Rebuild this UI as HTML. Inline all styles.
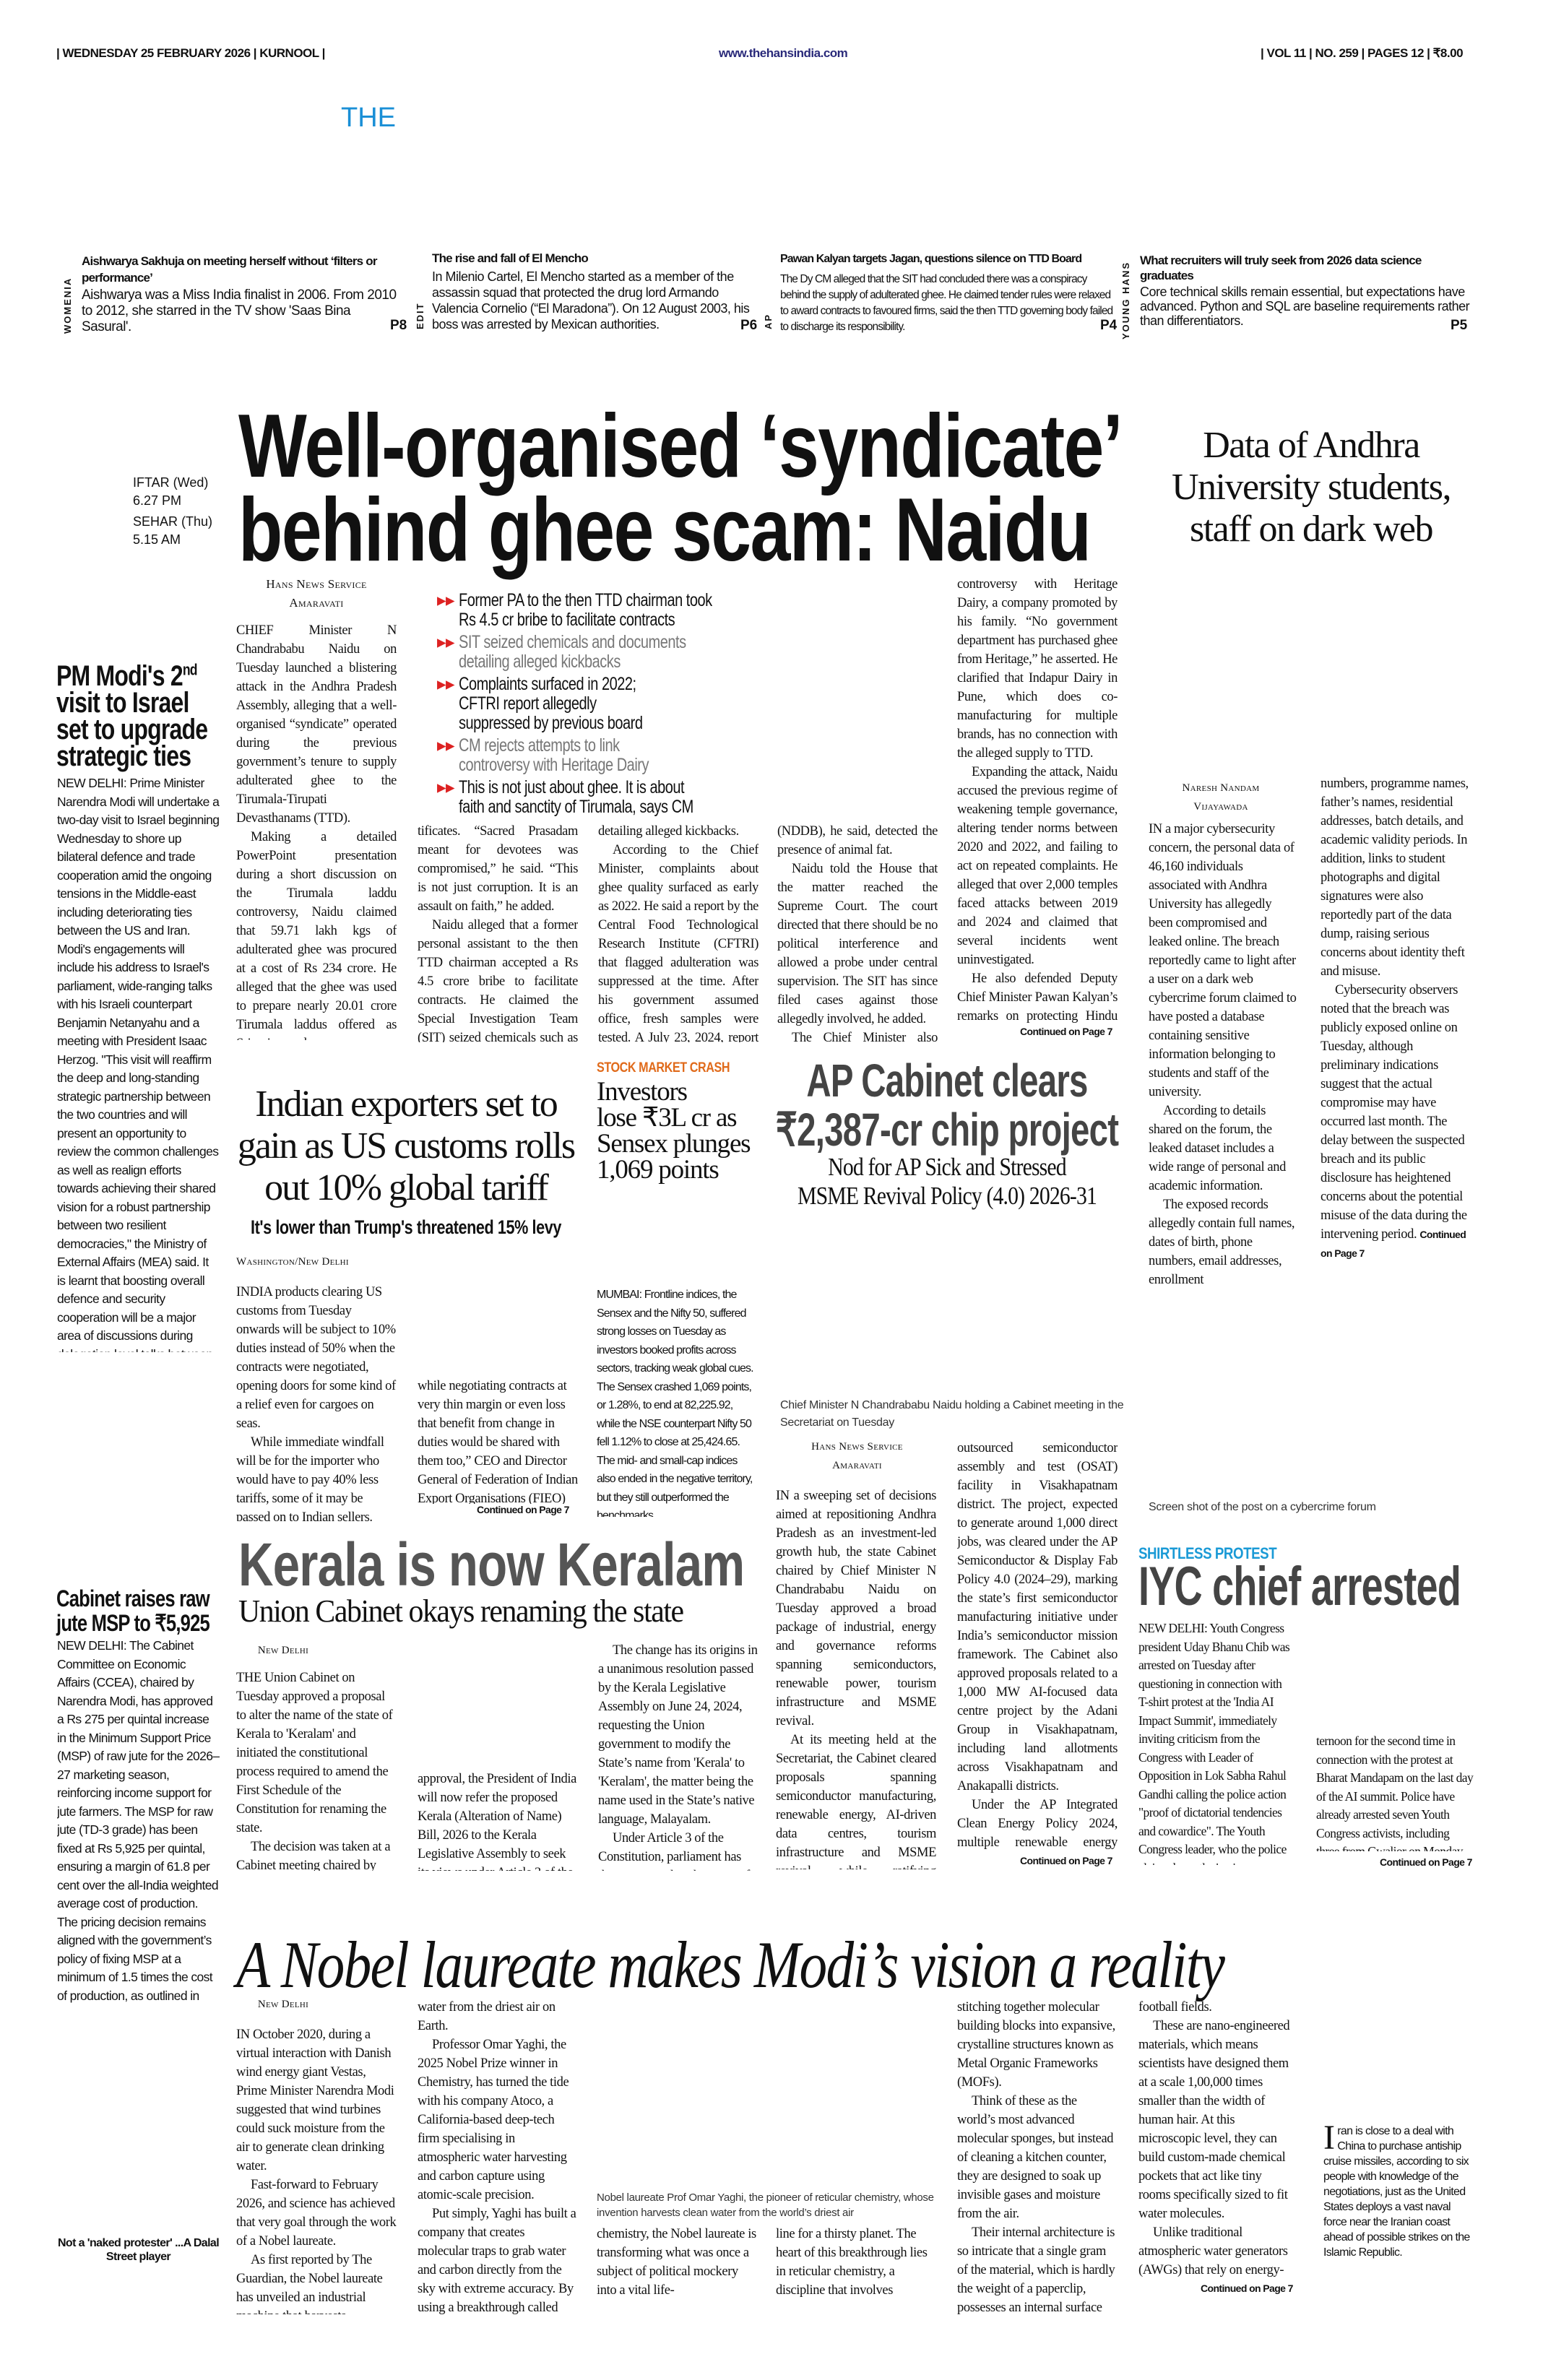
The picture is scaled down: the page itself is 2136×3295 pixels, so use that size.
<!DOCTYPE html>
<html lang="en"><head><meta charset="utf-8">
<style>
*{margin:0;padding:0;box-sizing:border-box}
body{width:2136px;height:3295px;background:#fff;position:relative;overflow:hidden;font-family:"Liberation Serif",serif;color:#111}
.a{position:absolute}
.s{font-family:"Liberation Sans",sans-serif}
.col{position:absolute;font-family:"Liberation Serif",serif;font-size:18.5px;line-height:26px;text-align:justify;hyphens:auto;-webkit-hyphens:auto;overflow:hidden;letter-spacing:-0.4px}
.col p{text-indent:20px}
.col p.n{text-indent:0}
.sc{position:absolute;font-family:"Liberation Sans",sans-serif;font-size:17.5px;line-height:25.5px;overflow:hidden;letter-spacing:-0.6px;hyphens:auto;-webkit-hyphens:auto}
.cond{display:inline-block;transform-origin:left top;white-space:nowrap}
.cl{position:absolute;white-space:nowrap;text-align:center;transform-origin:center top}
.by{position:absolute;text-align:center;font-family:"Liberation Serif",serif;font-size:17px;line-height:26px;font-variant:small-caps;letter-spacing:0.3px}
.cont{font-family:"Liberation Sans",sans-serif;font-weight:bold;font-size:14px;letter-spacing:-0.6px}
.hd{font-family:"Liberation Sans",sans-serif;font-weight:bold}
.bl{position:relative;padding-left:30px;margin-bottom:4px;white-space:nowrap}
.bl span.t{display:inline-block;transform:scaleX(0.8);transform-origin:left top}
.bl span.m{position:absolute;left:0;color:#d22}
</style></head><body>

<!-- header -->
<div class="a s" style="left:78px;top:64px;font-size:17px;font-weight:bold;letter-spacing:-0.5px">| WEDNESDAY 25 FEBRUARY 2026 | KURNOOL |</div>
<div class="a s" style="left:995px;top:64px;font-size:17px;font-weight:bold;color:#2a2a7a;letter-spacing:-0.5px">www.thehansindia.com</div>
<div class="a s" style="left:1745px;top:64px;font-size:17px;font-weight:bold;letter-spacing:-0.5px">| VOL 11 | NO. 259 | PAGES 12 | ₹8.00</div>
<div class="a s" style="left:472px;top:142px;font-size:38px;color:#1a8fd6">THE</div>

<!-- teasers -->
<div class="a s" style="left:113px;top:350px;width:440px;font-size:17px;line-height:23px;font-weight:bold;letter-spacing:-0.8px">Aishwarya Sakhuja on meeting herself without ‘filters or performance’</div>
<div class="a s" style="left:113px;top:398px;width:440px;font-size:19px;line-height:22px;letter-spacing:-0.5px">Aishwarya was a Miss India finalist in 2006. From 2010 to 2012, she starred in the TV show 'Saas Bina Sasural'.</div>
<div class="a s" style="left:86px;top:462px;transform:rotate(-90deg);transform-origin:0 0;font-size:13px;font-weight:bold;letter-spacing:2px;">WOMENIA</div>
<div class="a s" style="left:540px;top:440px;font-size:19px;font-weight:bold">P8</div>

<div class="a s" style="left:598px;top:348px;width:440px;font-size:17px;font-weight:bold;letter-spacing:-0.8px">The rise and fall of El Mencho</div>
<div class="a s" style="left:598px;top:372px;width:440px;font-size:18px;line-height:22px;letter-spacing:-0.5px">In Milenio Cartel, El Mencho started as a member of the assassin squad that protected the drug lord Armando Valencia Cornelio (“El Maradona”). On 12 August 2003, his boss was arrested by Mexican authorities.</div>
<div class="a s" style="left:574px;top:456px;transform:rotate(-90deg);transform-origin:0 0;font-size:13px;font-weight:bold;letter-spacing:2px">EDIT</div>
<div class="a s" style="left:1025px;top:440px;font-size:19px;font-weight:bold">P6</div>

<div class="a s" style="left:1080px;top:350px;width:470px;font-size:16px;font-weight:bold;letter-spacing:-0.9px">Pawan Kalyan targets Jagan, questions silence on TTD Board</div>
<div class="a s" style="left:1080px;top:376px;width:465px;font-size:15.5px;line-height:22px;letter-spacing:-0.9px">The Dy CM alleged that the SIT had concluded there was a conspiracy behind the supply of adulterated ghee. He claimed tender rules were relaxed to award contracts to favoured firms, said the then TTD governing body failed to discharge its responsibility.</div>
<div class="a s" style="left:1056px;top:456px;transform:rotate(-90deg);transform-origin:0 0;font-size:13px;font-weight:bold;letter-spacing:2px">AP</div>
<div class="a s" style="left:1523px;top:440px;font-size:19px;font-weight:bold">P4</div>

<div class="a s" style="left:1578px;top:350px;width:440px;font-size:17px;line-height:21px;font-weight:bold;letter-spacing:-0.8px">What recruiters will truly seek from 2026 data science graduates</div>
<div class="a s" style="left:1578px;top:394px;width:460px;font-size:18px;line-height:20px;letter-spacing:-0.5px">Core technical skills remain essential, but expectations have advanced. Python and SQL are baseline requirements rather than differentiators.</div>
<div class="a s" style="left:1551px;top:470px;transform:rotate(-90deg);transform-origin:0 0;font-size:13px;font-weight:bold;letter-spacing:2px">YOUNG HANS</div>
<div class="a s" style="left:2008px;top:440px;font-size:19px;font-weight:bold">P5</div>

<!-- IFTAR -->
<div class="a s" style="left:184px;top:656px;font-size:18px;line-height:25px">IFTAR (Wed)<br>6.27 PM</div>
<div class="a s" style="left:184px;top:710px;font-size:18px;line-height:25px">SEHAR (Thu)<br>5.15 AM</div>

<!-- main headline -->
<div class="a hd" style="left:330px;top:560px;font-size:124px;line-height:116px;letter-spacing:-2px">
<span class="cond" style="transform:scaleX(0.81)">Well-organised ‘syndicate’</span><br>
<span class="cond" style="transform:scaleX(0.81)">behind ghee scam: Naidu</span></div>

<div class="by" style="left:327px;top:796px;width:222px">Hans News Service<br>Amaravati</div>
<div class="col" style="left:327px;top:860px;width:222px;height:580px">
<p class="n">CHIEF Minister N Chandrababu Naidu on Tuesday launched a blistering attack in the Andhra Pradesh Assembly, alleging that a well-organised “syndicate” operated during the previous government’s tenure to supply adulterated ghee to the Tirumala-Tirupati Devasthanams (TTD).</p>
<p>Making a detailed PowerPoint presentation during a short discussion on the Tirumala laddu controversy, Naidu claimed that 59.71 lakh kgs of adulterated ghee was procured at a cost of Rs 234 crore. He alleged that the ghee was used to prepare nearly 20.01 crore Tirumala laddus offered as Srivari prasadam.</p>
<p>He accused those involved of manipulating tender rules, ignoring lab standards and submitting fake quality cer-</p></div>

<!-- bullets -->
<div class="a s" style="left:605px;top:818px;width:700px;font-size:25px;line-height:27px;letter-spacing:-0.6px">
<div class="bl"><span class="m">▸▸</span><span class="t">Former PA to the then TTD chairman took<br>Rs 4.5 cr bribe to facilitate contracts</span></div>
<div class="bl" style="color:#777"><span class="m">▸▸</span><span class="t">SIT seized chemicals and documents<br>detailing alleged kickbacks</span></div>
<div class="bl"><span class="m">▸▸</span><span class="t">Complaints surfaced in 2022;<br>CFTRI report allegedly<br>suppressed by previous board</span></div>
<div class="bl" style="color:#777"><span class="m">▸▸</span><span class="t">CM rejects attempts to link<br>controversy with Heritage Dairy</span></div>
<div class="bl"><span class="m">▸▸</span><span class="t">This is not just about ghee. It is about<br>faith and sanctity of Tirumala, says CM</span></div>
</div>

<div class="col" style="left:578px;top:1138px;width:222px;height:305px">
<p class="n">tificates. “Sacred Prasadam meant for devotees was compromised,” he said. “This is not just corruption. It is an assault on faith,” he added.</p>
<p>Naidu alleged that a former personal assistant to the then TTD chairman accepted a Rs 4.5 crore bribe to facilitate contracts. He claimed the Special Investigation Team (SIT) seized chemicals such as monoglycerides and acetic acid, along with documents</p></div>
<div class="col" style="left:828px;top:1138px;width:222px;height:305px">
<p class="n">detailing alleged kickbacks.</p>
<p>According to the Chief Minister, complaints about ghee quality surfaced as early as 2022. He said a report by the Central Food Technological Research Institute (CFTRI) that flagged adulteration was suppressed at the time. After his government assumed office, fresh samples were tested. A July 23, 2024, report from the National Dairy Development Board</p></div>
<div class="col" style="left:1076px;top:1138px;width:222px;height:305px">
<p class="n">(NDDB), he said, detected the presence of animal fat.</p>
<p>Naidu told the House that the matter reached the Supreme Court. The court directed that there should be no political interference and allowed a probe under central supervision. The SIT has since filed cases against those allegedly involved, he added.</p>
<p>The Chief Minister also rejected attempts to link the</p></div>
<div class="col" style="left:1325px;top:796px;width:222px;height:620px">
<p class="n">controversy with Heritage Dairy, a company promoted by his family. “No government department has purchased ghee from Heritage,” he asserted. He clarified that Indapur Dairy in Pune, which does co-manufacturing for multiple brands, has no connection with the alleged supply to TTD.</p>
<p>Expanding the attack, Naidu accused the previous regime of weakening temple governance, altering tender norms between 2020 and 2022, and failing to act on repeated complaints. He alleged that over 2,000 temples faced attacks between 2019 and 2024 and claimed that several incidents went uninvestigated.</p>
<p>He also defended Deputy Chief Minister Pawan Kalyan’s remarks on protecting Hindu traditions and said places of worship must respect established customs.</p></div>
<div class="a cont" style="left:1412px;top:1420px">Continued on Page 7</div>

<!-- right story -->
<div class="a" style="left:1585px;top:588px;width:460px;text-align:center;font-size:52px;line-height:58px;letter-spacing:-1.5px">Data of Andhra University students, staff on dark web</div>
<div class="by" style="left:1590px;top:1078px;width:200px;font-size:15px">Naresh Nandam<br>Vijayawada</div>
<div class="col" style="left:1590px;top:1135px;width:205px;height:690px;text-align:left">
<p class="n">IN a major cybersecurity concern, the personal data of 46,160 individuals associated with Andhra University has allegedly been compromised and leaked online. The breach reportedly came to light after a user on a dark web cybercrime forum claimed to have posted a database containing sensitive information belonging to students and staff of the university.</p>
<p>According to details shared on the forum, the leaked dataset includes a wide range of personal and academic information.</p>
<p>The exposed records allegedly contain full names, dates of birth, phone numbers, email addresses, enrollment</p></div>
<div class="col" style="left:1828px;top:1072px;width:205px;height:690px;text-align:left">
<p class="n">numbers, programme names, father’s names, residential addresses, batch details, and academic validity periods. In addition, links to student photographs and digital signatures were also reportedly part of the data dump, raising serious concerns about identity theft and misuse.</p>
<p>Cybersecurity observers noted that the breach was publicly exposed online on Tuesday, although preliminary indications suggest that the actual compromise may have occurred last month. The delay between the suspected breach and its public disclosure has heightened concerns about the potential misuse of the data during the intervening period. <span class="cont">Continued on Page 7</span></p></div>

<!-- PM Modi -->
<div class="a hd" style="left:78px;top:918px;font-size:40px;line-height:37px;letter-spacing:-1px"><span class="cond" style="transform:scaleX(0.8)">PM Modi's 2<sup style="font-size:22px;line-height:0">nd</sup><br>visit to Israel<br>set to upgrade<br>strategic ties</span></div>
<div class="sc" style="left:79px;top:1072px;width:225px;height:800px">NEW DELHI: Prime Minister Narendra Modi will undertake a two-day visit to Israel beginning Wednesday to shore up bilateral defence and trade cooperation amid the ongoing tensions in the Middle-east including deteriorating ties between the US and Iran. Modi's engagements will include his address to Israel's parliament, wide-ranging talks with his Israeli counterpart Benjamin Netanyahu and a meeting with President Isaac Herzog. "This visit will reaffirm the deep and long-standing strategic partnership between the two countries and will present an opportunity to review the common challenges as well as realign efforts towards achieving their shared vision for a robust partnership between two resilient democracies," the Ministry of External Affairs (MEA) said. It is learnt that boosting overall defence and security cooperation will be a major area of discussions during delegation level talks between the two prime ministers on Thursday.</div>

<!-- Indian exporters -->
<div class="a" style="left:327px;top:1500px;width:470px;text-align:center;font-size:52px;line-height:58px;letter-spacing:-2px">Indian exporters set to gain as US customs rolls out 10% global tariff</div>
<div class="cl hd" style="left:262px;top:1684px;width:600px;font-size:27px;letter-spacing:-0.5px;transform:scaleX(0.8)">It's lower than Trump's threatened 15% levy</div>
<div class="by" style="left:327px;top:1734px;width:200px;font-size:15px;text-align:left">Washington/New Delhi</div>
<div class="col" style="left:327px;top:1776px;width:222px;height:330px;text-align:left">
<p class="n">INDIA products clearing US customs from Tuesday onwards will be subject to 10% duties instead of 50% when the contracts were negotiated, opening doors for some kind of a relief even for cargoes on seas.</p>
<p>While immediate windfall will be for the importer who would have to pay 40% less tariffs, some of it may be passed on to Indian sellers. “Many exporters had an understanding with the buyers</p></div>
<div class="col" style="left:578px;top:1906px;width:222px;height:176px;text-align:left">
<p class="n">while negotiating contracts at very thin margin or even loss that benefit from change in duties would be shared with them too,” CEO and Director General of Federation of Indian Export Organisations (FIEO) Ajay Sahai said.</p></div>
<div class="a cont" style="left:660px;top:2082px">Continued on Page 7</div>

<!-- Stock market -->
<div class="a hd" style="left:826px;top:1468px;font-size:19px;color:#e06a1a;letter-spacing:-0.5px"><span class="cond" style="transform:scaleX(0.85)">STOCK MARKET CRASH</span></div>
<div class="a" style="left:826px;top:1494px;width:260px;font-size:37px;line-height:36px;letter-spacing:-1.2px">Investors<br>lose ₹3L cr as<br>Sensex plunges<br>1,069 points</div>
<div class="col" style="left:826px;top:1780px;width:222px;height:320px;font-family:'Liberation Sans',sans-serif;font-size:16px;line-height:25.5px;letter-spacing:-0.9px;text-align:left">MUMBAI: Frontline indices, the Sensex and the Nifty 50, suffered strong losses on Tuesday as investors booked profits across sectors, tracking weak global cues. The Sensex crashed 1,069 points, or 1.28%, to end at 82,225.92, while the NSE counterpart Nifty 50 fell 1.12% to close at 25,424.65. The mid- and small-cap indices also ended in the negative territory, but they still outperformed the benchmarks.</div>

<!-- AP Cabinet -->
<div class="cl hd" style="left:911px;top:1462px;width:800px;font-size:64px;line-height:68px;color:#444;letter-spacing:-1px;transform:scaleX(0.74)">AP Cabinet clears</div>
<div class="cl hd" style="left:911px;top:1530px;width:800px;font-size:64px;line-height:68px;color:#444;letter-spacing:-1px;transform:scaleX(0.74)">₹2,387-cr chip project</div>
<div class="cl" style="left:911px;top:1596px;width:800px;font-size:35px;line-height:40px;letter-spacing:-1px;transform:scaleX(0.85)">Nod for AP Sick and Stressed</div>
<div class="cl" style="left:911px;top:1636px;width:800px;font-size:35px;line-height:40px;letter-spacing:-1px;transform:scaleX(0.85)">MSME Revival Policy (4.0) 2026-31</div>
<div class="a s" style="left:1080px;top:1934px;width:500px;font-size:16px;line-height:24px;color:#333;letter-spacing:-0.3px">Chief Minister N Chandrababu Naidu holding a Cabinet meeting in the Secretariat on Tuesday</div>
<div class="by" style="left:1074px;top:1990px;width:225px;font-size:15px">Hans News Service<br>Amaravati</div>
<div class="col" style="left:1074px;top:2058px;width:222px;height:530px">
<p class="n">IN a sweeping set of decisions aimed at repositioning Andhra Pradesh as an investment-led growth hub, the state Cabinet chaired by Chief Minister N Chandrababu Naidu on Tuesday approved a broad package of industrial, energy and governance reforms spanning semiconductors, renewable power, tourism infrastructure and MSME revival.</p>
<p>At its meeting held at the Secretariat, the Cabinet cleared proposals spanning semiconductor manufacturing, renewable energy, AI-driven data centres, tourism infrastructure and MSME revival, while ratifying decisions taken by the State Investment Promotion Board (SIPB).</p>
<p>A key decision was the approval of a Rs 2,387.81-crore</p></div>
<div class="col" style="left:1325px;top:1992px;width:222px;height:570px">
<p class="n">outsourced semiconductor assembly and test (OSAT) facility in Visakhapatnam district. The project, expected to generate around 1,000 direct jobs, was cleared under the AP Semiconductor &amp; Display Fab Policy 4.0 (2024–29), marking the state’s first semiconductor manufacturing initiative under India’s semiconductor mission framework. The Cabinet also approved proposals related to a 1,000 MW AI-focused data centre project by the Adani Group in Visakhapatnam, including land allotments across Visakhapatnam and Anakapalli districts.</p>
<p>Under the AP Integrated Clean Energy Policy 2024, multiple renewable energy projects received the green signal, including 160 MW wind projects in Anantapur district and wind-solar hybrid projects in Kurnool.</p></div>
<div class="a cont" style="left:1412px;top:2568px">Continued on Page 7</div>

<!-- Kerala -->
<div class="a hd" style="left:330px;top:2120px;font-size:84px;line-height:92px;color:#555;letter-spacing:-1px"><span class="cond" style="transform:scaleX(0.8)">Kerala is now Keralam</span></div>
<div class="a" style="left:330px;top:2206px;font-size:44px;line-height:50px;letter-spacing:-1.5px"><span class="cond" style="transform:scaleX(0.95)">Union Cabinet okays renaming the state</span></div>
<div class="by" style="left:327px;top:2272px;width:130px;font-size:15px">New Delhi</div>
<div class="col" style="left:327px;top:2310px;width:222px;height:280px;text-align:left">
<p class="n">THE Union Cabinet on Tuesday approved a proposal to alter the name of the state of Kerala to 'Keralam' and initiated the constitutional process required to amend the First Schedule of the Constitution for renaming the state.</p>
<p>The decision was taken at a Cabinet meeting chaired by Prime Minister Narendra Modi. Following the</p></div>
<div class="col" style="left:578px;top:2450px;width:222px;height:140px;text-align:left">
<p class="n">approval, the President of India will now refer the proposed Kerala (Alteration of Name) Bill, 2026 to the Kerala Legislative Assembly to seek its views under Article 3 of the Constitution.</p></div>
<div class="col" style="left:828px;top:2272px;width:222px;height:318px;text-align:left">
<p>The change has its origins in a unanimous resolution passed by the Kerala Legislative Assembly on June 24, 2024, requesting the Union government to modify the State’s name from 'Kerala' to 'Keralam', the matter being the name used in the State’s native language, Malayalam.</p>
<p>Under Article 3 of the Constitution, parliament has the power to alter the name of an existing State by law. <span class="cont">Continued on Page 7</span></p></div>

<!-- Jute -->
<div class="a hd" style="left:78px;top:2196px;font-size:32px;line-height:34px;letter-spacing:-1px"><span class="cond" style="transform:scaleX(0.8)">Cabinet raises raw<br>jute MSP to ₹5,925</span></div>
<div class="sc" style="left:79px;top:2266px;width:225px;height:510px">NEW DELHI: The Cabinet Committee on Economic Affairs (CCEA), chaired by Narendra Modi, has approved a Rs 275 per quintal increase in the Minimum Support Price (MSP) of raw jute for the 2026–27 marketing season, reinforcing income support for jute farmers. The MSP for raw jute (TD-3 grade) has been fixed at Rs 5,925 per quintal, ensuring a margin of 61.8 per cent over the all-India weighted average cost of production. The pricing decision remains aligned with the government’s policy of fixing MSP at a minimum of 1.5 times the cost of production, as outlined in Budget 2018–19.</div>

<!-- IYC -->
<div class="a s" style="left:1590px;top:2078px;font-size:16px;color:#333;letter-spacing:-0.3px">Screen shot of the post on a cybercrime forum</div>
<div class="a hd" style="left:1576px;top:2138px;font-size:22px;color:#1a9ad6;letter-spacing:-0.5px"><span class="cond" style="transform:scaleX(0.85)">SHIRTLESS PROTEST</span></div>
<div class="a hd" style="left:1576px;top:2156px;font-size:76px;line-height:82px;color:#444;letter-spacing:-1px"><span class="cond" style="transform:scaleX(0.71)">IYC chief arrested</span></div>
<div class="col" style="left:1576px;top:2242px;width:215px;height:340px;text-align:left;font-size:17.5px;line-height:25.5px;letter-spacing:-0.6px">
<p class="n">NEW DELHI: Youth Congress president Uday Bhanu Chib was arrested on Tuesday after questioning in connection with T-shirt protest at the 'India AI Impact Summit', immediately inviting criticism from the Congress with Leader of Opposition in Lok Sabha Rahul Gandhi calling the police action "proof of dictatorial tendencies and cowardice". The Youth Congress leader, who the police claimed was the 'main conspirator and mastermind', was picked up for questioning on Monday af-</p></div>
<div class="col" style="left:1822px;top:2398px;width:218px;height:165px;text-align:left;font-size:17.5px;line-height:25.5px;letter-spacing:-0.6px">
<p class="n">ternoon for the second time in connection with the protest at Bharat Mandapam on the last day of the AI summit. Police have already arrested seven Youth Congress activists, including three from Gwalior on Monday in the case.</p></div>
<div class="a cont" style="left:1910px;top:2570px">Continued on Page 7</div>

<!-- Nobel -->
<div class="a" style="left:327px;top:2670px;font-size:92px;line-height:100px;font-style:italic;letter-spacing:-2px"><span class="cond" style="transform:scaleX(0.84)">A Nobel laureate makes Modi’s vision a reality</span></div>
<div class="by" style="left:327px;top:2762px;width:130px;font-size:15px">New Delhi</div>
<div class="col" style="left:327px;top:2804px;width:222px;height:400px;text-align:left">
<p class="n">IN October 2020, during a virtual interaction with Danish wind energy giant Vestas, Prime Minister Narendra Modi suggested that wind turbines could suck moisture from the air to generate clean drinking water.</p>
<p>Fast-forward to February 2026, and science has achieved that very goal through the work of a Nobel laureate.</p>
<p>As first reported by The Guardian, the Nobel laureate has unveiled an industrial machine that harvests</p></div>
<div class="col" style="left:578px;top:2766px;width:222px;height:438px;text-align:left">
<p class="n">water from the driest air on Earth.</p>
<p>Professor Omar Yaghi, the 2025 Nobel Prize winner in Chemistry, has turned the tide with his company Atoco, a California-based deep-tech firm specialising in atmospheric water harvesting and carbon capture using atomic-scale precision.</p>
<p>Put simply, Yaghi has built a company that creates molecular traps to grab water and carbon directly from the sky with extreme accuracy. By using a breakthrough called reticular</p></div>
<div class="a s" style="left:826px;top:3032px;width:480px;font-size:15px;line-height:21px;color:#333;letter-spacing:-0.3px">Nobel laureate Prof Omar Yaghi, the pioneer of reticular chemistry, whose invention harvests clean water from the world’s driest air</div>
<div class="col" style="left:826px;top:3080px;width:222px;height:124px;text-align:left">
<p class="n">chemistry, the Nobel laureate is transforming what was once a subject of political mockery into a vital life-</p></div>
<div class="col" style="left:1074px;top:3080px;width:222px;height:124px;text-align:left">
<p class="n">line for a thirsty planet. The heart of this breakthrough lies in reticular chemistry, a discipline that involves</p></div>
<div class="col" style="left:1325px;top:2766px;width:222px;height:438px;text-align:left">
<p class="n">stitching together molecular building blocks into expansive, crystalline structures known as Metal Organic Frameworks (MOFs).</p>
<p>Think of these as the world’s most advanced molecular sponges, but instead of cleaning a kitchen counter, they are designed to soak up invisible gases and moisture from the air.</p>
<p>Their internal architecture is so intricate that a single gram of the material, which is hardly the weight of a paperclip, possesses an internal surface area large enough to cover several</p></div>
<div class="col" style="left:1576px;top:2766px;width:215px;height:390px;text-align:left">
<p class="n">football fields.</p>
<p>These are nano-engineered materials, which means scientists have designed them at a scale 1,00,000 times smaller than the width of human hair. At this microscopic level, they can build custom-made chemical pockets that act like tiny rooms specifically sized to fit water molecules.</p>
<p>Unlike traditional atmospheric water generators (AWGs) that rely on energy-intensive cooling to reach the dew point, Yaghi’s materials use adsorption.</p></div>
<div class="a cont" style="left:1662px;top:3160px">Continued on Page 7</div>

<div class="col" style="left:1832px;top:2940px;width:210px;height:220px;text-align:left;font-family:'Liberation Sans',sans-serif;font-size:16px;line-height:21px;letter-spacing:-0.7px">
<p class="n"><span style="float:left;font-family:'Liberation Serif',serif;font-size:48px;line-height:40px;margin-right:4px">I</span>ran is close to a deal with China to purchase antiship cruise missiles, according to six people with knowledge of the negotiations, just as the United States deploys a vast naval force near the Iranian coast ahead of possible strikes on the Islamic Republic.</p></div>

<div class="a hd" style="left:79px;top:3096px;width:225px;text-align:center;font-size:16px;line-height:19px;letter-spacing:-0.6px">Not a 'naked protester' ...A Dalal Street player</div>

</body></html>
